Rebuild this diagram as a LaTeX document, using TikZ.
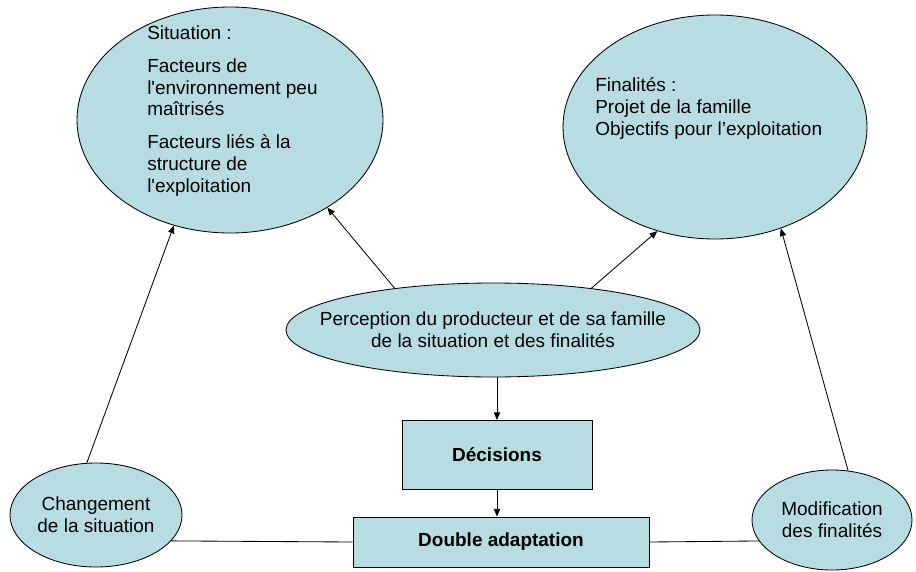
\documentclass[tikz,border=0pt]{standalone}
\usepackage{fontspec}
\setmainfont{Liberation Sans}
\usetikzlibrary{arrows.meta}
\usetikzlibrary{shapes.geometric}
\definecolor{bleuclair}{RGB}{183,221,227}
\newcommand{\texte}{\fontsize{13.5}{15.6}\selectfont}
\tikzset{
  bulle/.style={ellipse,draw,fill=bleuclair,line width=0.6pt,inner sep=0pt,align=center},
  boite/.style={rectangle,draw,fill=bleuclair,line width=0.6pt,font=\texte\bfseries},
  fleche/.style={-{Triangle[length=5.5pt,width=4.5pt]},line width=0.6pt},
  trait/.style={line width=0.6pt}
}

\begin{document}
\begin{tikzpicture}[font=\texte]
\useasboundingbox (0,0) rectangle (22.9,14.275);
\node[bulle,minimum width=7.65cm,minimum height=5.65cm] (sit) at (5.75,11.275) {};
\node[anchor=north west,inner sep=0pt,align=left] (sittxt) at (3.675,13.65) {Situation :\\[7.9pt]
Facteurs de\\l\textquotesingle environnement peu\\maîtrisés\\[7.9pt]
Facteurs liés à la\\structure de\\l\textquotesingle exploitation};
\node[bulle,minimum width=7.6cm,minimum height=5.6cm] (fin) at (17.875,11.1) {};
\node[anchor=north west,inner sep=0pt,align=left] (fintxt) at (14.875,12.35) {Finalités :\\Projet de la famille\\Objectifs pour l’exploitation};
\node[bulle,minimum width=10.35cm,minimum height=2.35cm] (perc) at (12.325,6.025) {};
\node[align=center,inner sep=0pt] (perctxt) at (perc.center) {Perception du producteur et de sa famille\\de la situation et des finalités};
\node[boite,minimum width=4.75cm,minimum height=1.725cm] (dec) at (12.425,2.9) {Décisions};
\node[boite,minimum width=7.4cm,minimum height=1.25cm] (dbl) at (12.525,0.725) {Double adaptation};
\node[bulle,minimum width=4.3cm,minimum height=2.6cm] (chg) at (2.4,1.4) {Changement\\de la situation};
\node[bulle,minimum width=4cm,minimum height=2.5cm] (mod) at (20.8,1.275) {Modification\\des finalités};
\draw[fleche] (chg.100) -- (sit.-118);
\draw[fleche] (perc.157) -- (sit.-42);
\draw[fleche] (perc.23) -- (fin.-119);
\draw[fleche] (mod.72) -- (fin.-57);
\draw[fleche] (dec.north |- perc.south) -- (dec.north);
\draw[fleche] (dec.south) -- (dec.south |- dbl.north);
\draw[trait] (chg.-19) -- (dbl.west);
\draw[trait] (dbl.east) -- (mod.196);
\end{tikzpicture}
\end{document}
